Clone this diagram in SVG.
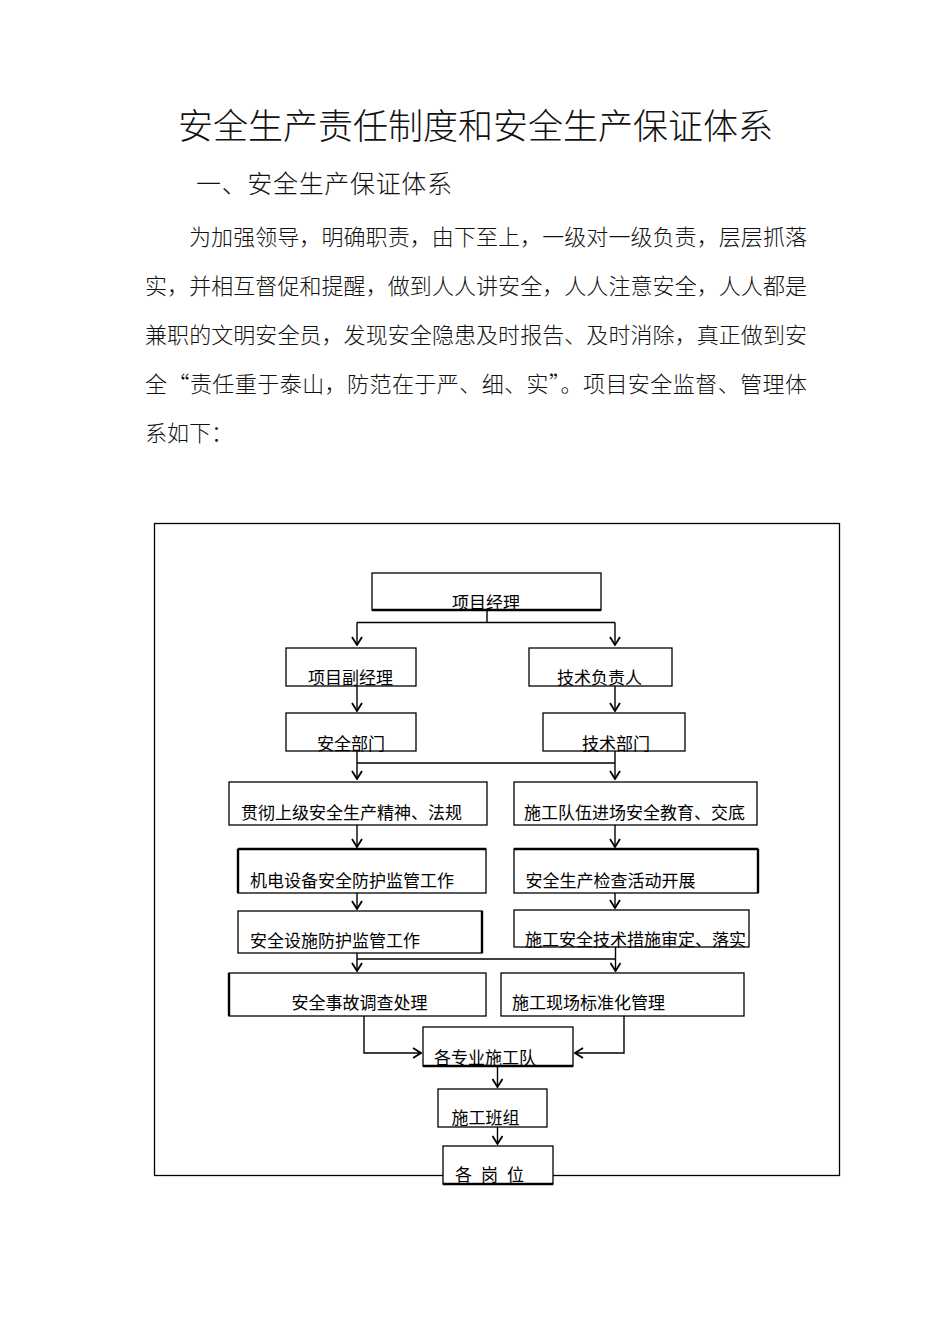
<svg xmlns="http://www.w3.org/2000/svg" width="950" height="1344" viewBox="0 0 950 1344">
<style>
.t{font-family:"Noto Sans CJK SC","Noto Sans CJK JP",sans-serif;fill:#111;font-weight:300}
.title{font-size:35px}
.sub{font-size:25px}
.p{font-size:22px}
.n{font-size:17px;font-family:"Noto Sans CJK SC","Noto Sans CJK JP",sans-serif;fill:#000}
.box{fill:#fff;stroke:#000;stroke-width:1.3}
.thick{stroke:#000;stroke-width:2.4}
.c{fill:none;stroke:#000;stroke-width:1.4}
</style>
<defs>
<marker id="ah" markerUnits="userSpaceOnUse" viewBox="0 0 10 12" refX="9" refY="6" markerWidth="10" markerHeight="12" orient="auto">
<path d="M1,1 L9,6 L1,11" fill="none" stroke="#000" stroke-width="1.8"/>
</marker>
</defs>
<rect width="950" height="1344" fill="#fff"/>
<g id="heading">
<text class="t title" x="178" y="139" textLength="595" lengthAdjust="spacing">安全生产责任制度和安全生产保证体系</text>
<text class="t sub" x="196" y="193" textLength="256" lengthAdjust="spacing">一、安全生产保证体系</text>
<text class="t p" x="189" y="245" textLength="618" lengthAdjust="spacing">为加强领导，明确职责，由下至上，一级对一级负责，层层抓落</text>
<text class="t p" x="145" y="294" textLength="662" lengthAdjust="spacing">实，并相互督促和提醒，做到人人讲安全，人人注意安全，人人都是</text>
<text class="t p" x="145" y="343" textLength="662" lengthAdjust="spacing">兼职的文明安全员，发现安全隐患及时报告、及时消除，真正做到安</text>
<text class="t p" x="145" y="392" textLength="662" lengthAdjust="spacing">全“责任重于泰山，防范在于严、细、实”。项目安全监督、管理体</text>
<text class="t p" x="145" y="441">系如下：</text>
</g>
<rect id="frame" x="154.5" y="523.5" width="685" height="652" fill="none" stroke="#000" stroke-width="1.3"/>
<g id="connectors">
<path class="c" d="M487,610 V622.5 M357,622.5 H615"/>
<path class="c" d="M357,622.5 V645" marker-end="url(#ah)"/>
<path class="c" d="M615,622.5 V645" marker-end="url(#ah)"/>
<path class="c" d="M357,686 V711" marker-end="url(#ah)"/>
<path class="c" d="M615,686 V711" marker-end="url(#ah)"/>
<path class="c" d="M357,763 H615"/>
<path class="c" d="M357,751 V779" marker-end="url(#ah)"/>
<path class="c" d="M615,751 V779" marker-end="url(#ah)"/>
<path class="c" d="M357,825 V847" marker-end="url(#ah)"/>
<path class="c" d="M615,825 V847" marker-end="url(#ah)"/>
<path class="c" d="M357,893 V909" marker-end="url(#ah)"/>
<path class="c" d="M615,893 V908" marker-end="url(#ah)"/>
<path class="c" d="M357,959 H615.5"/>
<path class="c" d="M357,953 V971" marker-end="url(#ah)"/>
<path class="c" d="M615.5,947 V971" marker-end="url(#ah)"/>
<path class="c" d="M364,1016 V1053 H421" marker-end="url(#ah)"/>
<path class="c" d="M624,1016 V1053 H575" marker-end="url(#ah)"/>
<path class="c" d="M497.5,1066 V1087" marker-end="url(#ah)"/>
<path class="c" d="M497.5,1127 V1144" marker-end="url(#ah)"/>
</g>
<g id="n1"><rect class="box" x="372" y="573" width="229" height="37"/><line class="thick" x1="372" y1="610" x2="601" y2="610"/><text class="n" x="452" y="608.5">项目经理</text></g>
<g id="n2"><rect class="box" x="286" y="648" width="130" height="38"/><text class="n" x="308" y="684">项目副经理</text></g>
<g id="n3"><rect class="box" x="529" y="648" width="143" height="38"/><text class="n" x="557" y="684">技术负责人</text></g>
<g id="n4"><rect class="box" x="286" y="713" width="130" height="38"/><text class="n" x="317" y="749.5">安全部门</text></g>
<g id="n5"><rect class="box" x="543" y="713" width="142" height="38"/><text class="n" x="582" y="749.5">技术部门</text></g>
<g id="n6"><rect class="box" x="229" y="782" width="258" height="43"/><text class="n" x="241" y="818.5">贯彻上级安全生产精神、法规</text></g>
<g id="n7"><rect class="box" x="514" y="782" width="243" height="43"/><text class="n" x="524" y="818.5">施工队伍进场安全教育、交底</text></g>
<g id="n8"><rect class="box" x="238" y="849" width="248" height="44"/><line class="thick" x1="238" y1="849" x2="486" y2="849"/><line class="thick" x1="238" y1="849" x2="238" y2="893"/><text class="n" x="250" y="887">机电设备安全防护监管工作</text></g>
<g id="n9"><rect class="box" x="514" y="849" width="244" height="44"/><line class="thick" x1="514" y1="849" x2="758" y2="849"/><line class="thick" x1="758" y1="849" x2="758" y2="893"/><text class="n" x="525.5" y="887">安全生产检查活动开展</text></g>
<g id="n10"><rect class="box" x="238" y="911" width="244" height="42"/><line class="thick" x1="482" y1="911" x2="482" y2="953"/><text class="n" x="250" y="946.5">安全设施防护监管工作</text></g>
<g id="n11"><rect class="box" x="514" y="910" width="235" height="37"/><text class="n" x="525" y="946">施工安全技术措施审定、落实</text></g>
<g id="n12"><rect class="box" x="229" y="973" width="257" height="43"/><line class="thick" x1="229" y1="973" x2="229" y2="1016"/><text class="n" x="291.5" y="1008.5">安全事故调查处理</text></g>
<g id="n13"><rect class="box" x="501" y="973" width="243" height="43"/><text class="n" x="512" y="1008.5">施工现场标准化管理</text></g>
<g id="n14"><rect class="box" x="423" y="1027" width="150" height="39"/><line class="thick" x1="423" y1="1066" x2="573" y2="1066"/><text class="n" x="434" y="1063.5">各专业施工队</text></g>
<g id="n15"><rect class="box" x="438" y="1089" width="109" height="38"/><text class="n" x="451.5" y="1123.5">施工班组</text></g>
<g id="n16"><rect class="box" x="443" y="1146" width="110" height="38"/><line class="thick" x1="443" y1="1184" x2="553" y2="1184"/><text class="n" x="455" y="1181" textLength="69" lengthAdjust="spacing" xml:space="preserve">各 岗 位</text></g>
</svg>
